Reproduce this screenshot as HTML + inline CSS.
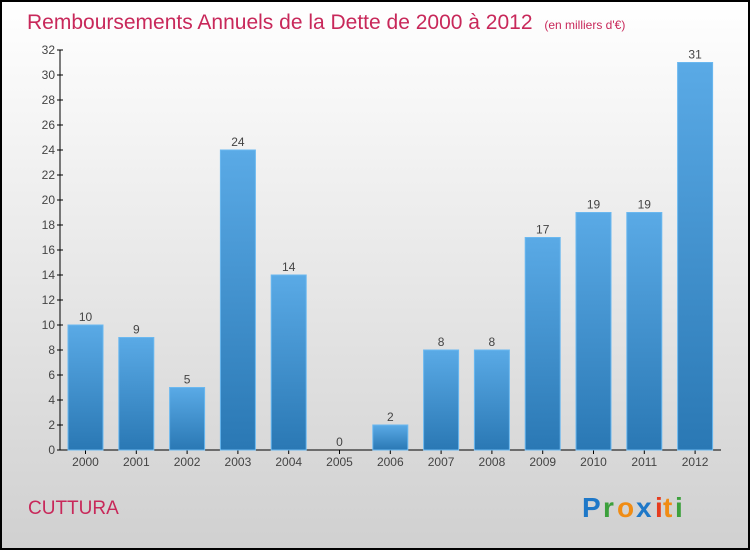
<!DOCTYPE html>
<html><head><meta charset="utf-8"><style>
body{margin:0;width:750px;height:550px;overflow:hidden;font-family:"Liberation Sans",sans-serif}
</style></head><body>
<svg width="750" height="550" xmlns="http://www.w3.org/2000/svg">
<defs>
<linearGradient id="bg" x1="0" y1="0" x2="0" y2="1"><stop offset="0" stop-color="#ffffff"/><stop offset="1" stop-color="#d0d0d0"/></linearGradient>
<linearGradient id="bar" x1="0" y1="0" x2="0" y2="1"><stop offset="0" stop-color="#5aaae6"/><stop offset="1" stop-color="#2a78b4"/></linearGradient>
</defs>
<rect x="1" y="1" width="748" height="548" fill="url(#bg)" stroke="#000" stroke-width="2"/>
<text x="27" y="29" font-size="21" fill="#c8285a">Remboursements Annuels de la Dette de 2000 à 2012 <tspan font-size="12" dx="6">(en milliers d'€)</tspan></text>
<g id="axes"></g>
<g id="bars"></g>
<text x="28" y="514" font-size="19" fill="#c8285a">CUTTURA</text>
<g font-size="28" font-weight="bold">
<text x="582" y="517" fill="#1e78c8">P</text><text x="603" y="517" fill="#3ca03c">r</text><text x="617" y="517" fill="#f08c14">o</text><text x="636" y="517" fill="#1e78c8">x</text><text x="655" y="517" fill="#e63c1e">i</text><text x="663" y="517" fill="#f08c14">t</text><text x="675" y="517" fill="#3ca03c">i</text>
</g>
</svg>
<script>
const categories=["2000","2001","2002","2003","2004","2005","2006","2007","2008","2009","2010","2011","2012"];
const values=[10,9,5,24,14,0,2,8,8,17,19,19,31];
const yTicks=[0,2,4,6,8,10,12,14,16,18,20,22,24,26,28,30,32];
const NS="http://www.w3.org/2000/svg";
const y0=450,yTop=50,yMax=32;
function yScale(v){return y0-(v/yMax)*(y0-yTop);}
function xScale(i){return 85.5+i*50.8;}
function mk(t,a,p){const e=document.createElementNS(NS,t);for(const k in a)e.setAttribute(k,a[k]);p.appendChild(e);return e;}
const ax=document.getElementById('axes'),bg=document.getElementById('bars');
const yl=mk('line',{x1:60,y1:yTop,x2:60,y2:y0,stroke:'#000'},ax);


const xl=mk('line',{x1:60,y1:y0,x2:721,y2:y0,stroke:'#000'},ax);


yTicks.forEach(v=>{const y=yScale(v);
mk('line',{x1:57,y1:y,x2:63,y2:y,stroke:'#000'},ax);
const t=mk('text',{x:55,y:y+4,'font-size':12,fill:'#444','text-anchor':'end'},ax);t.textContent=v;

});
categories.forEach((c,i)=>{const cx=xScale(i),v=values[i],y=yScale(v);
const r=mk('rect',{x:cx-17.5,y:y,width:35,height:y0-y,fill:'url(#bar)',stroke:'#6ab8f0','stroke-width':1},bg);


mk('line',{x1:cx,y1:y0,x2:cx,y2:y0+4,stroke:'#000'},ax);
const l=mk('text',{x:cx,y:y-4,'font-size':12,fill:'#444','text-anchor':'middle'},bg);l.textContent=v;


const xt=mk('text',{x:cx,y:466,'font-size':12,fill:'#444','text-anchor':'middle'},ax);xt.textContent=c;

});
</script>
</body></html>
